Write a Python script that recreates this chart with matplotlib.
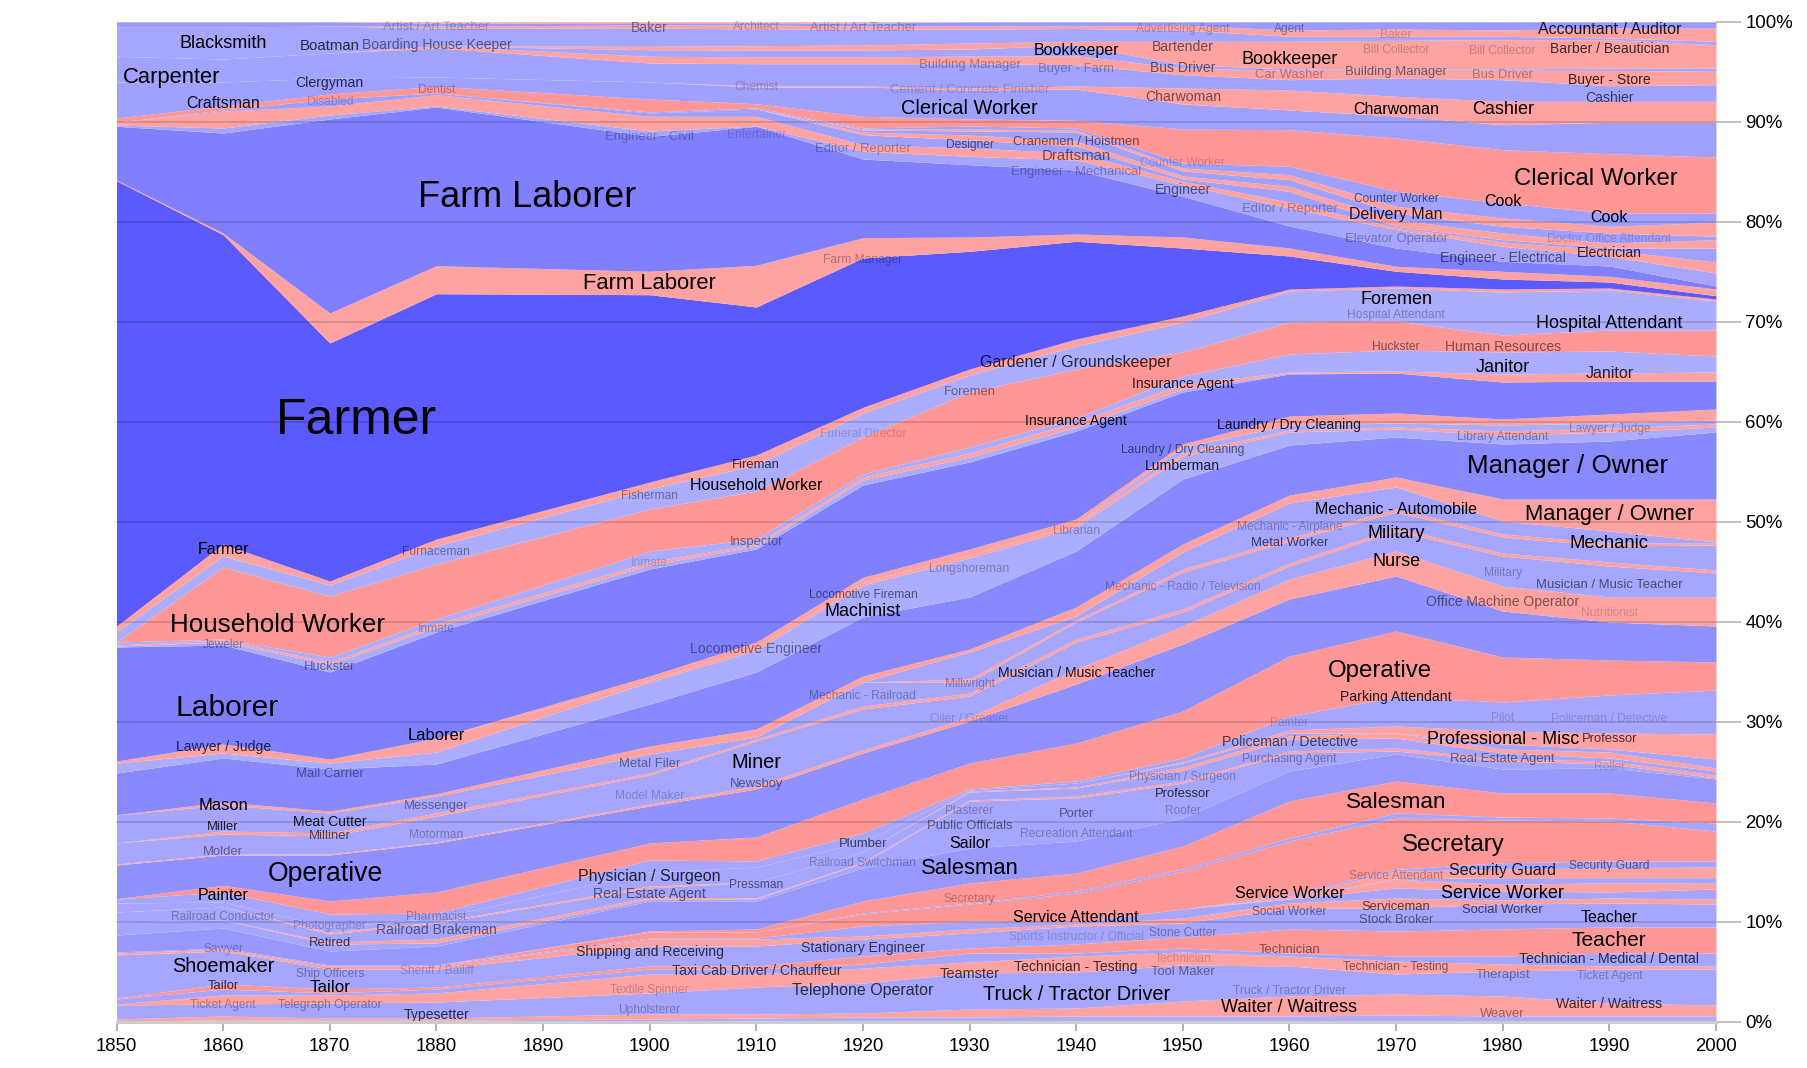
import numpy as np
import matplotlib
matplotlib.use("Agg")
import matplotlib.pyplot as plt

plt.rcParams['font.family'] = ['Liberation Sans', 'DejaVu Sans']

years = [1850,1860,1870,1880,1900,1910,1920,1930,1940,1950,1960,1970,1980,1990,2000]
x_ticks = [1850,1860,1870,1880,1890,1900,1910,1920,1930,1940,1950,1960,1970,1980,1990,2000]
y_ticks = [0,10,20,30,40,50,60,70,80,90,100]

# cumulative share (%) at the top of each occupation group, bottom to top
b01 = [.1,.2,.2,.2,.3,.4,.5,.5,.6,.6,.6,.7,.6,.6,.6]
b02 = [.3,.6,.4,.4,.8,.8,.9,1.3,1.4,2.1,2.6,2.8,2.6,1.9,1.7]
b03 = [1.7,1.8,1.9,2.0,2.9,3.5,3.9,4.9,5.0,5.7,5.6,4.8,5.1,5.3,5.3]
b04 = [1.8,2.7,2.7,2.9,4.8,4.8,5.4,6.0,6.6,7.0,6.6,6.1,5.8,5.6,5.6]
b05 = [2.3,3.3,2.9,3.3,5.3,5.3,5.8,6.9,6.9,7.4,6.9,6.6,6.6,6.9,6.9]
b06 = [2.4,3.8,3.3,3.5,5.6,5.6,6.6,7.4,7.8,8.5,9.3,9.1,9.3,9.5,9.5]
b07 = [6.7,7.1,5.3,5.3,7.6,7.6,8.3,8.9,9.6,9.9,11.4,11.4,11.8,11.9,11.8]
b08 = [6.9,7.3,5.6,5.6,8.3,8.3,8.6,9.3,9.8,10.4,11.9,12.4,12.2,12.4,12.3]
b09 = [7.0,7.4,5.7,5.7,8.4,8.4,9.6,10.1,10.0,11.3,12.3,13.4,13.1,13.0,13.3]
b10 = [7.0,7.4,5.7,5.7,8.4,8.4,9.6,10.1,10.0,11.3,12.33,14.27,13.77,13.93,13.87]
b11 = [7.0,7.4,5.7,5.7,8.4,8.4,9.6,10.1,10.0,11.3,12.4,14.33,14.43,14.43,14.43]
b12 = [7.0,7.4,5.7,5.7,8.4,8.4,9.6,10.1,10.0,11.3,12.6,15.1,15.27,15.43,15.5]
b13 = [7.0,7.4,5.7,5.7,8.4,8.4,9.6,10.1,10.0,11.3,12.77,15.27,15.93,16.1,16.1]
b14 = [7.0,7.4,5.7,5.7,9.0,9.0,10.8,11.8,12.9,15.1,18.1,20.4,20.2,20.1,19.1]
b15 = [7.0,7.4,5.7,5.7,9.0,9.0,10.9,11.9,13.1,15.3,18.4,20.9,20.5,20.4,19.9]
b16 = [7.0,7.4,5.7,5.7,9.1,9.3,12.1,13.9,14.9,17.6,22.1,24.1,22.9,22.9,21.9]
b17 = [8.7,9.4,7.1,7.6,12.1,12.1,15.4,17.4,18.1,20.4,25.1,26.8,25.3,25.4,24.3]
b18 = [10.0,10.2,7.8,7.9,12.3,12.3,15.9,22.1,22.4,23.9,26.9,27.1,26.1,25.8,24.4]
b19 = [10.0,10.2,8.0,8.3,12.5,12.4,16.0,22.2,22.6,24.1,27.1,27.4,26.3,26.1,24.7]
b20 = [11.0,11.5,8.8,9.9,13.4,14.0,17.0,23.0,23.4,25.2,28.3,28.4,26.9,26.4,25.1]
b21 = [11.0,11.5,9.0,10.0,13.6,14.0,17.0,23.1,23.5,25.5,28.6,28.9,27.3,27.0,25.4]
b22 = [11.9,12,9.5,10.4,15,15.5,18,23.2,23.9,25.9,28.9,28.9,27.8,27.3,26.3]
b23 = [11.9,12,9.5,10.4,15,15.5,18,23.2,23.9,26,29.2,29.6,29.1,28.9,28.8]
b24 = [12.3,13,10.8,10.9,16.2,16.1,18.9,23.3,24.1,26.4,30.6,32.5,32,32.7,33.2]
b25 = [12.33,13.67,12.1,13,17.9,18.5,22.3,25.9,27.9,31.1,36.6,39.1,36.5,36.2,36]
b26 = [15.7,16.7,16.7,17.9,21.6,23.3,26.9,30.1,33.8,37.8,42.3,44.6,41.1,40,39.6]
b27 = [15.8,16.8,16.8,18,21.8,23.6,27.2,30.5,35.3,39.6,44.3,47.1,43.6,42.5,42.5]
b28 = [17.9,18.8,18.6,20.6,24.7,28.1,31.3,32.6,38,41,45.6,49.1,46.6,45.6,44.9]
b29 = [17.9,19.1,18.9,20.9,24.9,28.3,31.6,32.9,38.3,41.3,45.9,49.4,46.9,46,45.2]
b30 = [20.7,21.7,20.9,22.6,26.8,28.5,34,34,40,45,48.1,51,48.5,47.6,47.7]
b31 = [20.7,21.7,20.9,22.6,26.8,28.5,34,34.3,40.2,45.3,48.4,51.3,48.8,47.9,47.9]
b32 = [20.7,21.7,20.9,22.6,26.8,28.5,34,37,40.6,47,51.9,53.5,50.1,49.1,48]
b33 = [20.73,22,21.1,22.83,27.6,29.3,34.6,37.3,41.5,47.8,52.7,54.5,52.3,52.3,52.3]
b34 = [24.9,26.4,25.3,25.8,31.8,35,40.5,42.5,47.1,54.3,57.7,58.5,57.8,58.1,59]
b35 = [25.9,26.9,25.9,27,34,37.2,43.7,46.4,49.5,56.6,59,59.3,58.7,59,59.5]
b36 = [26.1,27.8,26.3,28.4,34.2,37.5,44,46.7,49.8,56.9,59.2,59.5,59.1,59.4,59.8]
b37 = [26.1,27.8,26.3,28.4,34.2,37.5,44,46.7,49.8,57.5,59.7,59.9,59.7,59.9,60.2]
b38 = [26.1,27.8,26.3,28.4,34.6,38,44.47,47.3,50.3,57.8,60.6,60.9,60.3,60.8,61.3]
b39 = [37.5,37.7,35,39,45.3,47.3,53.7,56,59.1,63,64.8,64.9,64,64.1,64.1]
b40 = [37.6,38,35.8,39.5,45.7,47.6,54.2,56.5,59.5,63.3,64.9,64.9,64,64.1,64.1]
b41 = [37.7,38.2,36,39.8,46,47.8,54.5,56.9,60,63.8,65,65.1,64.8,64.9,65]
b42 = [38,38.3,36.5,40.3,47.1,48.3,54.8,57.5,60.4,64.6,66.8,67.2,67,67.1,66.6]
b43 = [38,45.5,42.6,45.8,51.3,53.1,58.5,63,65.3,67,70,70.1,68.7,69.2,69.2]
b44 = [39,46.6,43.7,47.6,53.3,55.7,60.9,64.7,67.6,70,73.1,73.4,73,73.2,72.1]
b45 = [39.6,47.8,44.1,48.3,54,56.7,61.47,65.3,68.3,70.6,73.3,73.6,73.3,73.4,72.3]
b46 = [84.13,78.73,67.9,72.83,72.73,71.5,76.4,77.07,78.07,77.4,76.6,75.07,74.3,74.0,72.63]
b47 = [84.2,78.9,70.9,75.63,75.07,75.67,78.43,78.5,78.8,78.5,77.4,75.57,75.07,74.57,73.3]
b48 = [89.57,88.9,90.3,91.5,88.57,89.57,86.3,85.73,85.2,82.57,79.6,77.4,76.07,75.6,73.6]
b49 = [89.7,89.4,90.7,91.6,89.1,89.6,87.07,86.57,86.2,83.73,81.4,79.23,77.57,76.57,74.9]
b50 = [90,91.1,91.6,92.73,90.57,90.57,87.73,87.4,86.9,84.07,82,79.45,78,77.2,76]
b51 = [90,91.2,92.3,92.9,90.9,91.3,88.73,88.2,87.6,84.3,83.07,79.57,78.23,77.4,77.4]
b52 = [90,91.2,92.3,92.9,90.9,91.3,89,88.7,88.1,84.6,83.57,80.23,78.9,77.9,78.23]
b53 = [90,91.2,92.3,92.9,90.9,91.3,89.2,89.1,89,85.1,84.23,80.9,79.57,78.9,78.57]
b54 = [90,91.2,92.3,92.9,90.9,91.3,89.3,89.3,89.2,85.4,84.73,81.57,80.4,79.57,79.97]
b55 = [90,91.2,92.3,92.9,91,91.4,89.4,89.6,89.4,85.9,85.57,83.07,81.9,80.9,80.9]
b56 = [90.4,91.6,92.8,93.57,92.3,91.83,90.57,90.3,90.17,89.3,89.23,88.4,87.23,86.83,86.5]
b57 = [94,94,94.4,94.5,94,93.5,93.5,93.2,93.3,91.8,91.2,90.6,89.73,89.97,89.97]
b58 = [94,94,94.4,94.5,94,93.6,93.6,93.4,93.6,93.4,93.2,92.57,92.07,92.07,92.07]
b59 = [96.57,96.3,96.9,97.4,95.9,95.83,95.83,95.83,95.73,94.73,94.23,94.4,94.23,93.63,93.73]
b60 = [96.57,96.3,96.9,97.6,96.57,96.5,96.5,96.6,96.63,95.4,95.17,95.17,95.17,95.17,95.07]
b61 = [96.57,96.3,96.9,97.6,97.23,97.2,97.2,97.3,97.7,95.73,95.3,95.3,95.3,95.4,95.4]
b62 = [96.57,96.3,96.9,97.6,97.57,97.63,97.7,97.9,98.07,98.07,98.07,98.17,98.23,98.23,97.73]
b63 = [99.5,99.5,99.6,99.4,99.4,99.3,99.3,99.3,99.35,99.2,98.57,98.57,98.57,98.4,98.07]
b64 = [99.5,99.5,99.6,99.6,99.7,99.7,99.6,99.6,99.6,99.7,99.2,99.3,99.2,99.4,99.4]
b65 = [100,100,100,99.9,99.85,99.85,99.9,100,100,100,100,100,100,100,100]
b66 = [100]*15

# labels: text, year, percent, size in px, opacity
labels = [
("Blacksmith",1860,97.8,18,1),("Boatman",1870,97.6,15,.75),("Boarding House Keeper",1880,97.7,14,.5),
("Artist / Art Teacher",1880,99.5,13,.22),("Baker",1900,99.4,14,.45),("Architect",1910,99.5,12,.22),
("Artist / Art Teacher",1920,99.4,13,.25),("Advertising Agent",1950,99.3,12,.22),("Agent",1960,99.3,12,.35),
("Baker",1970,98.7,12,.18),("Accountant / Auditor",1990,99.2,16,.85),("Bartender",1950,97.5,14,.55),
("Bill Collector",1970,97.2,12,.22),("Bill Collector",1980,97.1,12,.22),("Barber / Beautician",1990,97.3,14,.75),
("Carpenter",1855.2,94.6,22,1),("Clergyman",1870,93.9,14,.75),("Craftsman",1860,91.8,16,.9),
("Disabled",1870,92,12,.22),("Dentist",1880,93.2,12,.28),("Chemist",1910,93.5,12,.22),
("Building Manager",1930,95.7,13,.3),("Cement / Concrete Finisher",1930,93.2,13,.18),("Bookkeeper",1940,97.1,16,1),
("Buyer - Farm",1940,95.3,13,.3),("Bus Driver",1950,95.4,14,.55),("Bookkeeper",1960,96.3,18,1),
("Car Washer",1960,94.7,13,.3),("Building Manager",1970,95,13,.5),("Bus Driver",1980,94.7,13,.3),
("Buyer - Store",1990,94.2,14,.8),("Cashier",1990,92.4,14,.65),("Charwoman",1950,92.5,14,.55),
("Charwoman",1970,91.3,16,1),("Cashier",1980,91.3,18,1),("Clerical Worker",1930,91.5,20,1),
("Engineer - Civil",1900,88.5,13,.28),("Entertainer",1910,88.7,12,.18),("Editor / Reporter",1920,87.3,13,.3),
("Designer",1930,87.7,12,.55),("Cranemen / Hoistmen",1940,88,13,.55),("Draftsman",1940,86.6,15,.55),
("Engineer - Mechanical",1940,85,13,.3),("Counter Worker",1950,85.9,12,.18),("Engineer",1950,83.2,14,.55),
("Editor / Reporter",1960,81.3,13,.3),("Counter Worker",1970,82.3,12,.55),("Delivery Man",1970,80.7,16,.85),
("Elevator Operator",1970,78.3,13,.3),("Clerical Worker",1988.7,84.4,24,1),("Cook",1980,82,16,1),
("Cook",1990,80.4,16,1),("Doctor Office Attendant",1990,78.3,12,.18),("Electrician",1990,76.9,14,.8),
("Engineer - Electrical",1980,76.4,14,.55),("Farm Laborer",1888.5,82.6,36,1),("Farm Laborer",1900,74,22,1),
("Farm Manager",1920,76.2,12,.3),("Farmer",1872.5,60.4,50,1),("Farmer",1860,47.3,16,1),
("Household Worker",1865.1,39.8,26,1),("Jeweler",1860,37.7,12,.35),("Huckster",1870,35.5,13,.45),
("Furnaceman",1880,47,12,.4),("Inmate",1880,39.3,12,.28),("Inmate",1900,45.9,12,.18),
("Fisherman",1900,52.6,12,.4),("Fireman",1910,55.7,13,.75),("Household Worker",1910,53.6,16,1),
("Inspector",1910,48,13,.45),("Funeral Director",1920,58.8,12,.18),("Foremen",1930,63,13,.45),
("Gardener / Groundskeeper",1940,66,16,.8),("Insurance Agent",1950,63.8,14,.85),("Insurance Agent",1940,60.1,14,.9),
("Laundry / Dry Cleaning",1950,57.2,12,.55),("Lumberman",1950,55.6,14,.85),("Laundry / Dry Cleaning",1960,59.7,14,.85),
("Foremen",1970,72.3,18,1),("Hospital Attendant",1970,70.7,12,.28),("Huckster",1970,67.5,12,.5),
("Human Resources",1980,67.5,14,.5),("Hospital Attendant",1990,69.8,18,1),("Janitor",1980,65.4,18,1),
("Janitor",1990,64.8,16,.8),("Library Attendant",1980,58.5,12,.35),("Lawyer / Judge",1990,59.3,12,.28),
("Manager / Owner",1986.1,55.7,26,1),("Manager / Owner",1990,50.9,22,1),("Mechanic",1990,47.8,18.5,1),
("Mechanic - Automobile",1970,51.3,16,1),("Mechanic - Airplane",1960,49.5,12,.28),("Metal Worker",1960,47.9,13,.65),
("Military",1970,48.8,18,1),("Nurse",1970,46,18,1),("Military",1980,44.9,12,.28),
("Musician / Music Teacher",1990,43.7,13,.55),("Office Machine Operator",1980,42,14,.5),("Nutritionist",1990,40.9,12,.18),
("Mechanic - Radio / Television",1950,43.5,12,.28),("Librarian",1940,49.1,12,.28),("Longshoreman",1930,45.3,12,.28),
("Locomotive Fireman",1920,42.7,12,.55),("Machinist",1920,41.1,18,1),("Locomotive Engineer",1910,37.3,14,.45),
("Laborer",1860.4,31.5,30,1),("Lawyer / Judge",1860,27.5,14,.75),("Laborer",1880,28.6,16.5,1),
("Mail Carrier",1870,24.8,13,.45),("Mason",1860,21.6,16.5,1),("Miller",1860,19.5,13,.85),
("Molder",1860,17,13,.45),("Meat Cutter",1870,20,14,.9),("Milliner",1870,18.6,13,.65),
("Messenger",1880,21.6,13,.45),("Motorman",1880,18.7,12,.28),("Metal Filer",1900,25.8,13,.45),
("Model Maker",1900,22.6,12,.22),("Miner",1910,26.1,20,1),("Newsboy",1910,23.8,13,.5),
("Mechanic - Railroad",1920,32.6,12,.3),("Millwright",1930,33.8,12,.3),("Oiler / Greaser",1930,30.3,12,.18),
("Musician / Music Teacher",1940,34.9,14,.85),("Operative",1968.5,35.2,24,1),("Parking Attendant",1970,32.5,14,.85),
("Policeman / Detective",1960,28,14,.65),("Purchasing Agent",1960,26.3,12,.35),("Painter",1960,29.9,12,.18),
("Pilot",1980,30.4,12,.18),("Policeman / Detective",1990,30.3,12,.18),("Professional - Misc",1980,28.3,18,1),
("Professor",1990,28.3,13,.7),("Real Estate Agent",1980,26.3,13,.5),("Roller",1990,25.5,12,.18),
("Physician / Surgeon",1950,24.5,12,.28),("Professor",1950,22.8,13,.75),("Roofer",1950,21.1,12,.28),
("Porter",1940,20.8,13,.5),("Recreation Attendant",1940,18.8,12,.28),("Plasterer",1930,21.1,12,.28),
("Public Officials",1930,19.6,13,.5),("Sailor",1930,17.9,16,1),("Plumber",1920,17.8,13,.65),
("Railroad Switchman",1920,15.9,12,.28),("Salesman",1930,15.5,22,1),("Physician / Surgeon",1900,14.6,16,.8),
("Real Estate Agent",1900,12.8,14,.55),("Pressman",1910,13.7,12,.55),("Operative",1869.6,14.9,26.6,1),
("Painter",1860,12.6,16,1),("Railroad Conductor",1860,10.5,12,.3),("Photographer",1870,9.6,12,.22),
("Pharmacist",1880,10.5,12,.3),("Railroad Brakeman",1880,9.2,14,.5),("Retired",1870,7.9,13,.7),
("Sawyer",1860,7.3,12,.28),("Shoemaker",1860,5.7,20,1),("Ship Officers",1870,4.8,12,.35),
("Sheriff / Bailiff",1880,5.1,12,.22),("Tailor",1860,3.6,13,.75),("Tailor",1870,3.5,17,1),
("Ticket Agent",1860,1.7,12,.3),("Telegraph Operator",1870,1.7,12,.35),("Typesetter",1880,.7,14,.75),
("Shipping and Receiving",1900,7,14,.75),("Taxi Cab Driver / Chauffeur",1910,5.1,14,.7),("Textile Spinner",1900,3.2,12,.22),
("Upholsterer",1900,1.2,12,.28),("Stationary Engineer",1920,7.4,14,.7),("Telephone Operator",1920,3.1,16,.75),
("Secretary",1930,12.3,12,.28),("Teamster",1930,4.8,14.5,.7),("Service Attendant",1940,10.4,16,1),
("Sports Instructor / Official",1940,8.5,12,.18),("Technician - Testing",1940,5.5,14,.75),("Truck / Tractor Driver",1940,2.8,20,1),
("Stone Cutter",1950,8.9,12,.35),("Technician",1950,6.3,12,.18),("Tool Maker",1950,5,13,.45),
("Truck / Tractor Driver",1960,3.1,12,.28),("Waiter / Waitress",1960,1.4,18,1),("Technician",1960,7.2,13,.5),
("Social Worker",1960,11,12,.45),("Service Worker",1960,12.9,16,1),("Salesman",1970,22.1,22.5,1),
("Secretary",1975.4,17.8,24,1),("Service Attendant",1970,14.6,12,.28),("Security Guard",1980,15.2,16,.85),
("Security Guard",1990,15.6,12,.5),("Service Worker",1980,12.9,18,1),("Serviceman",1970,11.5,13,.65),
("Stock Broker",1970,10.2,13,.5),("Social Worker",1980,11.2,13,.65),("Teacher",1990,10.4,16,1),
("Teacher",1990,8.3,21,1),("Technician - Medical / Dental",1990,6.3,14,.75),("Technician - Testing",1970,5.5,12,.5),
("Therapist",1980,4.7,13,.4),("Ticket Agent",1990,4.6,12,.28),("Weaver",1980,.8,13,.4),
("Waiter / Waitress",1990,1.8,14,.75),
]

# ---------- styling ----------
PINK, PINK2 = '#ff9797', '#ffa2a2'
LIGHT, LIGHTER = '#a6a6ff', '#adadff'
bands = [
 (b01,LIGHTER),(b02,PINK2),(b03,LIGHT),(b04,PINK2),(b05,LIGHT),(b06,PINK),(b07,LIGHT),(b08,PINK2),
 (b09,LIGHT),(b10,PINK2),(b11,LIGHT),(b12,PINK2),(b13,LIGHT),(b14,PINK),(b15,LIGHT),(b16,PINK),
 (b17,'#9898ff'),(b18,LIGHT),(b19,PINK2),(b20,LIGHT),(b21,PINK2),(b22,LIGHT),(b23,PINK2),(b24,LIGHT),
 (b25,PINK),(b26,'#9090ff'),(b27,PINK2),(b28,LIGHT),(b29,PINK2),(b30,LIGHT),(b31,PINK2),(b32,LIGHT),
 (b33,PINK2),(b34,'#8888ff'),(b35,LIGHTER),(b36,PINK2),(b37,LIGHTER),(b38,PINK2),(b39,'#8080ff'),
 (b40,LIGHTER),(b41,PINK2),(b42,LIGHTER),(b43,PINK),(b44,LIGHTER),(b45,PINK2),(b46,'#5a5aff'),
 (b47,PINK2),(b48,'#8080ff'),(b49,LIGHT),(b50,PINK2),(b51,'#a0a0ff'),(b52,PINK2),(b53,'#a0a0ff'),
 (b54,PINK2),(b55,'#a0a0ff'),(b56,PINK),(b57,'#a0a0ff'),(b58,PINK2),(b59,'#a2a2ff'),(b60,PINK2),
 (b61,'#a6a6ff'),(b62,PINK2),(b63,'#a6a6ff'),(b64,PINK2),(b65,'#9a9aff'),(b66,PINK2),
]

W, H = 1808, 1068
fig = plt.figure(figsize=(W/100, H/100), dpi=100, facecolor='white')
L, R, T, B = 116.5, 1716, 22, 1022
ax = fig.add_axes([L/W, 1-B/H, (R-L)/W, (B-T)/H])
ax.set_xlim(1850, 2000)
ax.set_ylim(0, 100)

lower = np.zeros(len(years))
for arr, col in bands:
    upper = np.maximum(lower, np.array(arr, float))
    ax.fill_between(years, lower, upper, color=col, lw=0, zorder=1)
    lower = upper

for s in ax.spines.values():
    s.set_visible(False)
ax.spines['bottom'].set_visible(True)
ax.spines['bottom'].set_color('#cccccc')
ax.spines['bottom'].set_linewidth(2.2)
ax.spines['bottom'].set_zorder(5)

ax.set_xticks(x_ticks)
ax.set_xticklabels([str(v) for v in x_ticks], fontsize=13.4)
ax.yaxis.tick_right()
ax.set_yticks(y_ticks)
ax.set_yticklabels([f"{v}%" for v in y_ticks], fontsize=13.4)
ax.tick_params(axis='x', length=6.5, width=1.3, color='#aaaaaa', pad=5)
ax.tick_params(axis='y', length=18, width=1.3, color='#bbbbbb', pad=3)
ax.grid(False)
for v in y_ticks[1:-1]:
    ax.axhline(v, color='#000000', alpha=.14, lw=1.4, zorder=3)
ax.axhline(100, color='#000000', alpha=.08, lw=1.0, zorder=3)

for txt, x, y, px, a in labels:
    nudge = .005*px if px >= 20 else 0
    ax.text(x, y - nudge, txt, ha='center', va='center', fontsize=px*.72, color='black', alpha=a, zorder=4)

fig.savefig('out.png', dpi=100, facecolor='white')
